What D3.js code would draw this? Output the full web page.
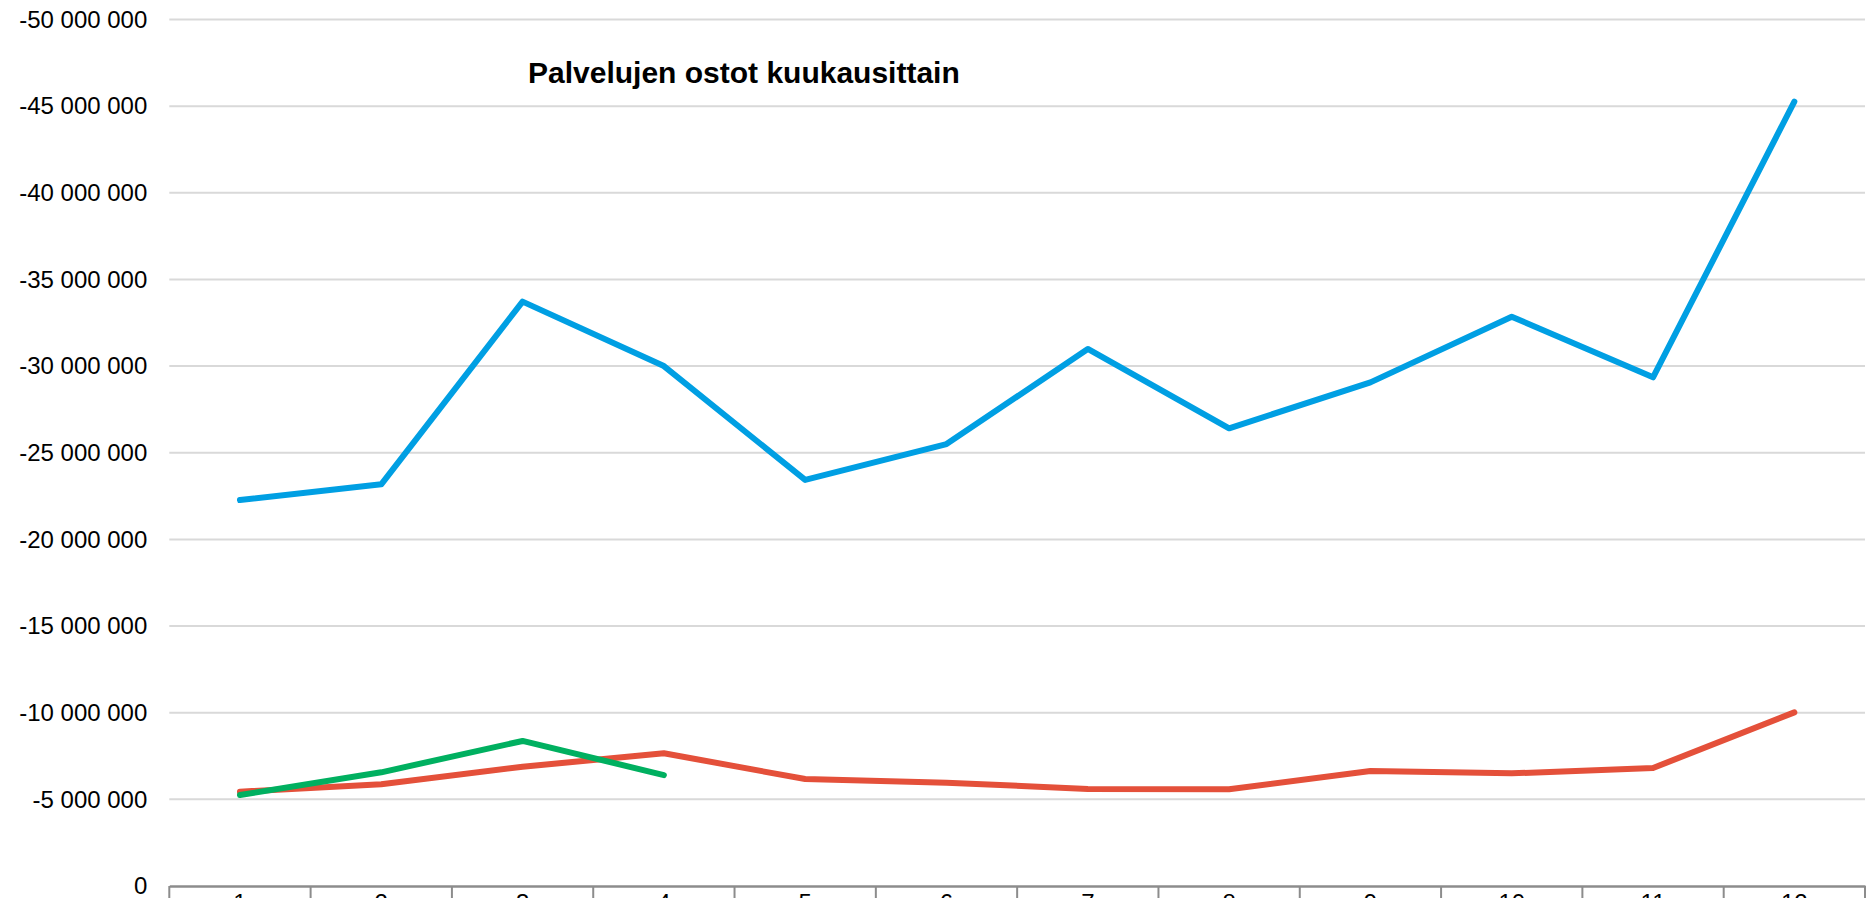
<!DOCTYPE html>
<html>
<head>
<meta charset="utf-8">
<script src="https://cdn.jsdelivr.net/npm/d3@7"></script>
<style>
  body { margin: 0; background: #fff; }
  text { font-family: "Liberation Sans", Arial, sans-serif; }
</style>
</head>
<body>
<script>
// Kuukaudet ja sarjat (arvot negatiivisina, kuten kuvassa)
const months = [1, 2, 3, 4, 5, 6, 7, 8, 9, 10, 11, 12];
const seriesBlue = [-22270000, -23180000, -33720000, -30000000, -23430000, -25500000,
  -30990000, -26410000, -29060000, -32850000, -29350000, -45260000];
const seriesRed = [-5440000, -5870000, -6880000, -7660000, -6170000, -5960000,
  -5600000, -5580000, -6640000, -6500000, -6810000, -10020000];
const seriesGreen = [-5250000, -6560000, -8370000, -6400000];
const yTicks = [0, -5000000, -10000000, -15000000, -20000000, -25000000,
  -30000000, -35000000, -40000000, -45000000, -50000000];

const width = 1869, height = 898;
const margin = { top: 19.5, right: 4, bottom: 12, left: 169.3 };

const svg = d3.select("body").append("svg")
  .attr("width", width)
  .attr("height", height);

const x = d3.scaleBand()
  .domain(months)
  .range([margin.left, width - margin.right])
  .padding(0);

const y = d3.scaleLinear()
  .domain([0, -50000000])
  .range([height - margin.bottom, margin.top]);

const fi = d3.formatLocale({
  decimal: ",", thousands: " ", grouping: [3], currency: ["", ""], minus: "-"
});
const fmt = fi.format(",d");

// gridlines
svg.append("g")
  .selectAll("line")
  .data(yTicks.filter(d => d !== 0))
  .enter()
  .append("line")
  .attr("x1", margin.left)
  .attr("x2", width - margin.right)
  .attr("y1", d => y(d))
  .attr("y2", d => y(d))
  .attr("stroke", "#d9d9d9")
  .attr("stroke-width", 2);

// y axis labels
const yAxis = svg.append("g")
  .attr("transform", `translate(${margin.left - 22},0)`)
  .call(d3.axisLeft(y).tickValues(yTicks).tickSize(0).tickFormat(fmt));
yAxis.select(".domain").remove();
yAxis.selectAll("text")
  .attr("x", 0)
  .attr("fill", "#000")
  .style("font-size", "24px")
  .style("font-family", "'Liberation Sans', Arial, sans-serif");

// x axis
const xAxis = svg.append("g")
  .attr("transform", `translate(0,${y(0)})`)
  .call(d3.axisBottom(x).tickSize(0).tickPadding(8));
xAxis.select(".domain")
  .attr("stroke", "#8c8c8c")
  .attr("stroke-width", 2.5);
xAxis.selectAll("text")
  .attr("fill", "#000")
  .style("font-size", "24px")
  .style("font-family", "'Liberation Sans', Arial, sans-serif");

// category boundary ticks
const bounds = months.map(m => x(m)).concat([x(months[months.length - 1]) + x.bandwidth()]);
svg.append("g")
  .selectAll("line")
  .data(bounds)
  .enter()
  .append("line")
  .attr("x1", d => d)
  .attr("x2", d => d)
  .attr("y1", y(0))
  .attr("y2", y(0) + 14)
  .attr("stroke", "#8c8c8c")
  .attr("stroke-width", 2);

// lines
const line = d3.line()
  .x((d, i) => x(months[i]) + x.bandwidth() / 2)
  .y(d => y(d));

const series = [
  { values: seriesRed, color: "#e4503a" },
  { values: seriesBlue, color: "#009fe3" },
  { values: seriesGreen, color: "#00b060" }
];

svg.append("g")
  .selectAll("path")
  .data(series)
  .enter()
  .append("path")
  .attr("d", d => line(d.values))
  .attr("fill", "none")
  .attr("stroke", d => d.color)
  .attr("stroke-width", 6)
  .attr("stroke-linejoin", "round")
  .attr("stroke-linecap", "round");

// title
svg.append("text")
  .attr("x", 528)
  .attr("y", 83)
  .style("font-size", "30px")
  .style("font-weight", "bold")
  .attr("fill", "#000")
  .text("Palvelujen ostot kuukausittain");
</script>
</body>
</html>
